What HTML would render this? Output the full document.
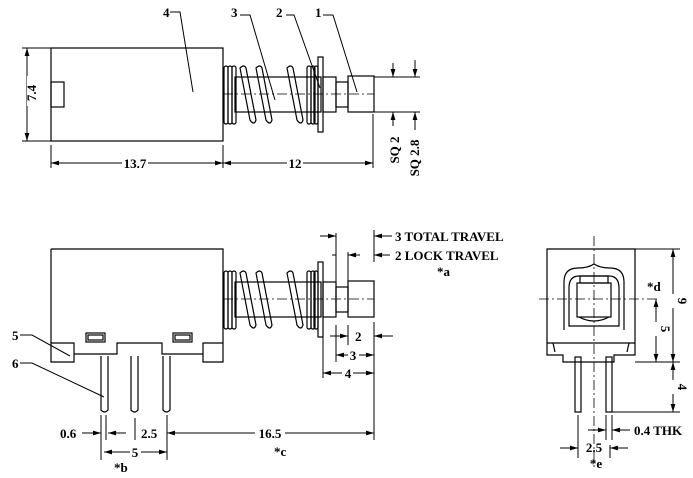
<!DOCTYPE html>
<html><head><style>
html,body{margin:0;padding:0;background:#fff;}
svg{display:block;}
text{font-family:"Liberation Serif",serif;font-weight:bold;font-size:13px;fill:#000;}
</style></head><body>
<svg width="693" height="478" viewBox="0 0 693 478" xmlns="http://www.w3.org/2000/svg">
<defs>
<marker id="a" viewBox="0 0 10 6" refX="10" refY="3" markerWidth="8" markerHeight="5" orient="auto-start-reverse" markerUnits="userSpaceOnUse"><path d="M0,0 L10,3 L0,6 z" fill="#000"/></marker>
<g id="mech" fill="none" stroke="#000" stroke-width="1.2">
<rect x="235" y="-17" width="86" height="35"/>
<rect x="224" y="-28" width="4" height="58" rx="2"/>
<rect x="228" y="-28" width="4" height="58" rx="2"/>
<rect x="232" y="-28" width="4" height="58" rx="2"/>
<path d="M240,-26 q4,-4 6,0 l10,52 q-2,6 -6,0 z"/>
<path d="M256,-26 q4,-4 6,0 l10,52 q-2,6 -6,0 z"/>
<path d="M287,-26 q4,-4 6,0 l10,52 q-2,6 -6,0 z"/>
<rect x="307" y="-28" width="4" height="58" rx="2"/>
<rect x="311" y="-28" width="4" height="58" rx="2"/>
<rect x="314" y="-28" width="4" height="58" rx="2"/>
<rect x="318" y="-37" width="5" height="75"/>
<rect x="323" y="-17" width="13" height="35"/>
<rect x="336" y="-12" width="12" height="25"/>
<rect x="348" y="-18" width="26" height="36"/>
<line x1="223" y1="0" x2="374" y2="0" stroke-width="0.8" stroke-dasharray="10,3,2,3"/>
</g>
</defs>

<!-- TOP VIEW -->
<g fill="none" stroke="#000" stroke-width="1.2">
<rect x="51" y="48" width="172" height="93"/>
<rect x="51" y="82" width="13" height="25"/>
</g>
<use href="#mech" y="94"/>
<g stroke="#000" stroke-width="1" fill="none">
<line x1="22" y1="48" x2="51" y2="48"/><line x1="22" y1="141" x2="51" y2="141"/>
<line x1="27" y1="48" x2="27" y2="141" marker-start="url(#a)" marker-end="url(#a)"/>
<line x1="51" y1="145" x2="51" y2="168"/><line x1="223" y1="145" x2="223" y2="168"/>
<line x1="373" y1="114" x2="373" y2="168"/>
<line x1="51" y1="163" x2="223" y2="163" marker-start="url(#a)" marker-end="url(#a)"/>
<line x1="223" y1="163" x2="373" y2="163" marker-start="url(#a)" marker-end="url(#a)"/>
<line x1="374" y1="77" x2="420" y2="77"/><line x1="374" y1="112" x2="420" y2="112"/>
<line x1="393" y1="63" x2="393" y2="77" marker-end="url(#a)"/>
<line x1="393" y1="126" x2="393" y2="112" marker-end="url(#a)"/>
<line x1="415" y1="60" x2="415" y2="77" marker-end="url(#a)"/>
<line x1="415" y1="130" x2="415" y2="112" marker-end="url(#a)"/>
<!-- leaders -->
<polyline points="170,12 180,12 193,92"/>
<polyline points="240,15 250,15 275,100"/>
<polyline points="286,15 294,15 320,88"/>
<polyline points="323,15 333,15 357,92"/>
</g>
<rect x="27" y="76" width="8" height="30" fill="#fff"/>
<text transform="translate(36,93) rotate(-90)" text-anchor="middle">7.4</text>
<rect x="122" y="156" width="26" height="14" fill="#fff"/><text x="135" y="168" text-anchor="middle">13.7</text>
<rect x="287" y="156" width="16" height="14" fill="#fff"/><text x="295" y="168" text-anchor="middle">12</text>
<text x="163" y="17">4</text><text x="231" y="17">3</text><text x="276" y="17">2</text><text x="315" y="17">1</text>
<text transform="translate(399,150) rotate(-90)" text-anchor="middle">SQ 2</text>
<text transform="translate(419,158) rotate(-90)" text-anchor="middle">SQ 2.8</text>

<!-- SIDE VIEW -->
<g fill="none" stroke="#000" stroke-width="1.2">
<path d="M51,249 H223 V362 H203 V343 H223 M203,354 H162 V343 H117 V354 H74 V343 H51 M51,249 V362 H74 V354"/>
<rect x="86" y="333" width="19" height="9"/><rect x="88" y="335" width="15" height="5"/>
<rect x="173" y="333" width="19" height="9"/><rect x="175" y="335" width="15" height="5"/>
<path d="M101,356 V410 q3.5,4 7,0 V356"/>
<path d="M131,356 V410 q3.5,4 7,0 V356"/>
<path d="M163,356 V410 q3.5,4 7,0 V356"/>
</g>
<use href="#mech" y="299"/>
<g stroke="#000" stroke-width="1" fill="none">
<line x1="336" y1="233" x2="336" y2="290"/>
<line x1="348" y1="252" x2="348" y2="290"/>
<line x1="374" y1="230" x2="374" y2="262"/>
<line x1="374" y1="322" x2="374" y2="440"/>
<line x1="336" y1="325" x2="336" y2="362"/>
<line x1="348" y1="325" x2="348" y2="345"/>
<line x1="323" y1="335" x2="323" y2="378"/>
<line x1="320" y1="236" x2="336" y2="236" marker-end="url(#a)"/>
<line x1="392" y1="236" x2="374" y2="236" marker-end="url(#a)"/>
<line x1="332" y1="255" x2="336" y2="255"/>
<line x1="360" y1="255" x2="348" y2="255" marker-end="url(#a)"/>
<line x1="390" y1="255" x2="374" y2="255" marker-end="url(#a)"/>
<line x1="330" y1="336" x2="348" y2="336" marker-end="url(#a)"/>
<line x1="393" y1="336" x2="374" y2="336" marker-end="url(#a)"/>
<line x1="336" y1="355" x2="374" y2="355" marker-start="url(#a)" marker-end="url(#a)"/>
<line x1="323" y1="373" x2="374" y2="373" marker-start="url(#a)" marker-end="url(#a)"/>
<line x1="101" y1="415" x2="101" y2="460"/><line x1="106" y1="415" x2="106" y2="440"/>
<line x1="135" y1="418" x2="135" y2="440"/><line x1="167" y1="415" x2="167" y2="460"/>
<line x1="82" y1="433" x2="101" y2="433" marker-end="url(#a)"/>
<line x1="126" y1="433" x2="108" y2="433" marker-end="url(#a)"/>
<line x1="167" y1="433" x2="374" y2="433" marker-start="url(#a)" marker-end="url(#a)"/>
<line x1="104" y1="452" x2="167" y2="452" marker-start="url(#a)" marker-end="url(#a)"/>
<polyline points="20,335 32,335 70,356"/>
<polyline points="20,363 32,363 104,397"/>
</g>
<rect x="351" y="329" width="14" height="14" fill="#fff"/>
<text x="395" y="241">3 TOTAL TRAVEL</text>
<text x="395" y="260">2 LOCK TRAVEL</text>
<text x="437" y="276">*a</text>
<text x="355" y="341">2</text>
<rect x="348" y="348" width="11" height="13" fill="#fff"/><text x="353" y="360" text-anchor="middle">3</text>
<rect x="342" y="366" width="11" height="13" fill="#fff"/><text x="348" y="378" text-anchor="middle">4</text>
<text x="60" y="438">0.6</text>
<text x="141" y="438">2.5</text>
<rect x="255" y="426" width="30" height="14" fill="#fff"/><text x="270" y="438" text-anchor="middle">16.5</text>
<rect x="130" y="445" width="11" height="13" fill="#fff"/><text x="135" y="457" text-anchor="middle">5</text>
<text x="114" y="472">*b</text><text x="274" y="456">*c</text>
<text x="12" y="340">5</text><text x="12" y="368">6</text>

<!-- END VIEW -->
<g fill="none" stroke="#000" stroke-width="1.2">
<path d="M547,249 H635 V343 H547 Z"/>
<path d="M547,343 V355 H563 V362 H614 V355 H635 V343"/>
<path d="M553,343 L555,352 M629,343 L627,352"/>
<path d="M564,330 V282 q0,-14 14,-14 q10,0 16,-4 q6,4 16,4 q14,0 14,14 V330"/>
<path d="M569,326 V288 q0,-12 10,-12 h30 q10,0 10,12 V326 Z"/>
<rect x="577" y="283" width="34" height="34"/>
<rect x="580" y="276" width="28" height="7"/>
<path d="M579,317 q15,8 30,0"/>
<rect x="575" y="357" width="6" height="55"/>
<rect x="606" y="357" width="6" height="55"/>
</g>
<g stroke="#000" stroke-width="0.8" fill="none" stroke-dasharray="10,3,2,3">
<line x1="594" y1="236" x2="594" y2="470"/>
<line x1="539" y1="299" x2="660" y2="299"/>
</g>
<g stroke="#000" stroke-width="1" fill="none">
<line x1="635" y1="249" x2="680" y2="249"/><line x1="635" y1="362" x2="680" y2="362"/>
<line x1="612" y1="412" x2="680" y2="412"/>
<line x1="673" y1="249" x2="673" y2="362" marker-start="url(#a)" marker-end="url(#a)"/>
<line x1="656" y1="299" x2="656" y2="362" marker-start="url(#a)" marker-end="url(#a)"/>
<line x1="673" y1="362" x2="673" y2="412" marker-start="url(#a)" marker-end="url(#a)"/>
<line x1="606" y1="415" x2="606" y2="440"/><line x1="612" y1="415" x2="612" y2="440"/>
<line x1="578" y1="415" x2="578" y2="458"/><line x1="610" y1="445" x2="610" y2="458"/>
<line x1="588" y1="430" x2="606" y2="430" marker-end="url(#a)"/>
<line x1="630" y1="430" x2="612" y2="430" marker-end="url(#a)"/>
<line x1="560" y1="448" x2="578" y2="448" marker-end="url(#a)"/>
<line x1="628" y1="448" x2="610" y2="448" marker-end="url(#a)"/>
</g>
<rect x="666" y="294" width="13" height="14" fill="#fff"/>
<text transform="translate(678,301) rotate(90)" text-anchor="middle">9</text>
<rect x="650" y="322" width="12" height="14" fill="#fff"/>
<text transform="translate(661,329) rotate(90)" text-anchor="middle">5</text>
<rect x="666" y="380" width="13" height="14" fill="#fff"/>
<text transform="translate(678,387) rotate(90)" text-anchor="middle">4</text>
<text x="647" y="291">*d</text>
<text x="634" y="435">0.4 THK</text>
<text x="594" y="452" text-anchor="middle">2.5</text>
<text x="596" y="468" text-anchor="middle">*e</text>
</svg>
</body></html>
